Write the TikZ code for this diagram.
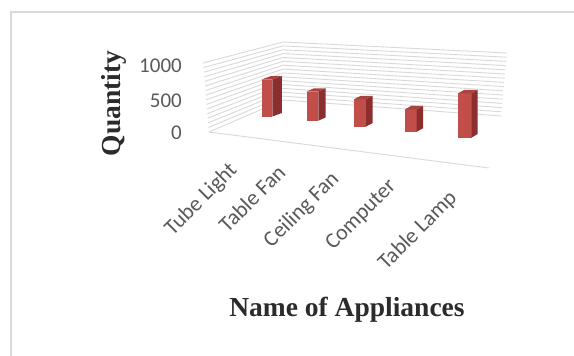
\documentclass[tikz,border=0pt]{standalone}
\usepackage{fontspec}
\setmainfont{Liberation Serif}
\newfontfamily\tickfont{Carlito}
\definecolor{gridgray}{HTML}{D9D9D9}
\definecolor{framegray}{HTML}{D9D9D9}
\definecolor{ticktext}{HTML}{595959}
\definecolor{titletext}{HTML}{2B2B2B}
\definecolor{colfront}{HTML}{C24E4A}
\definecolor{colside}{HTML}{8A2F2D}
\definecolor{coltop}{HTML}{A94340}
\tikzset{
  gridline/.style={draw=gridgray, line width=0.9pt},
  ticklabel/.style={text=ticktext, font=\tickfont\fontsize{21}{24}\selectfont, inner sep=0pt},
  catlabel/.style={text=ticktext, font=\tickfont\fontsize{22}{25}\selectfont, inner sep=0pt, rotate=45, anchor=base east},
  axistitle/.style={text=titletext, font=\bfseries\fontsize{27.5}{30}\selectfont, inner sep=0pt},
}
% one 3-D column: left x, right x, top y, bottom y, depth dx, depth dy
\newcommand{\drawcolumn}[6]{%
  \fill[colfront] (#1,#4) -- (#2,#4) -- (#2,#3) -- (#1,#3) -- cycle;
  \fill[colside] (#2,#4) -- ({#2+#5},{#4+#6}) -- ({#2+#5},{#3+#6}) -- (#2,#3) -- cycle;
  \fill[coltop] (#1,#3) -- (#2,#3) -- ({#2+#5},{#3+#6}) -- ({#1+#5},{#3+#6}) -- cycle;
}
\begin{document}
\begin{tikzpicture}[x=1pt, y=-1pt]
\useasboundingbox (0,0) rectangle (574,356);
\fill[white] (0,0) rectangle (574,356);
% outer frame
\draw[framegray, line width=2pt] (10.5,356) -- (10.5,12) -- (574,12);

% side wall and back wall gridlines
\foreach \i in {0,...,15}{
  \pgfmathsetmacro\t{\i/15}
  \draw[gridline] ({209-6*\t},{132-69*\t}) -- (283,{100-58*\t}) -- ({501+6*\t},{116-63*\t});
}
% front edge of the floor
\draw[gridline] (209,132) -- (489,168);

% columns
\drawcolumn{261.5}{272.3}{79.5}{116.5}{9.5}{-3.5}
\drawcolumn{306.7}{318.3}{91.5}{120.7}{7.2}{-3.2}
\drawcolumn{354}{366}{99.3}{126.5}{6.7}{-3.5}
\drawcolumn{405}{416.7}{109.3}{131.7}{6.4}{-3.5}
\drawcolumn{458.3}{471.7}{93.3}{137.5}{6}{-3.5}

% value axis
\node[ticklabel, anchor=east] (v1000) at (182,65.5) {1000};
\node[ticklabel, anchor=east] (v500) at (182,101) {500};
\node[ticklabel, anchor=east] (v0) at (182,132.5) {0};

% category axis
\node[catlabel] (c1) at (238,171) {Tube Light};
\node[catlabel] (c2) at (287,174) {Table Fan};
\node[catlabel] (c3) at (340,180) {Ceiling Fan};
\node[catlabel] (c4) at (397,187) {Computer};
\node[catlabel] (c5) at (458,199) {Table Lamp};

% axis titles
\node[axistitle, rotate=90, anchor=base] (ytitle) at (120,103.5) {Quantity};
\node[axistitle, anchor=base] (xtitle) at (347,316.7) {Name of Appliances};
\end{tikzpicture}
\end{document}
